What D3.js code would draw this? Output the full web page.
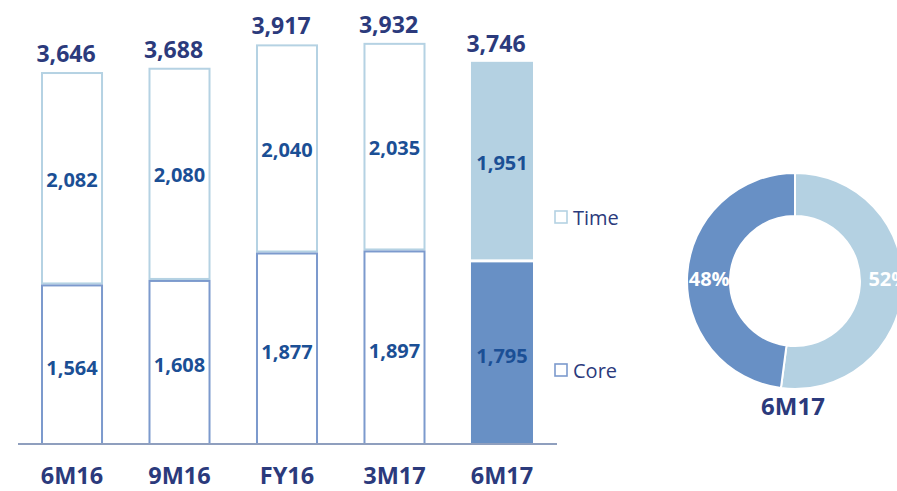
<!DOCTYPE html>
<html>
<head>
<meta charset="utf-8">
<script src="https://cdn.jsdelivr.net/npm/d3@7/dist/d3.min.js"></script>
<style>
  html, body { margin: 0; padding: 0; background: #ffffff; }
  svg { display: block; font-family: "Open Sans", "Liberation Sans", sans-serif; }
</style>
</head>
<body>
<svg id="chart" width="897" height="491"></svg>
<script>
// Deposit mix by period (Core vs Time), in millions
const periods = ["6M16", "9M16", "FY16", "3M17", "6M17"];
const coreValues = [1564, 1608, 1877, 1897, 1795];
const timeValues = [2082, 2080, 2040, 2035, 1951];
const totalValues = [3646, 3688, 3917, 3932, 3746];
const seriesNames = ["Time", "Core"];
const donutLabel = "6M17";

const navy = "#2b3a7c";
const valueBlue = "#1b4f95";
const timeFill = "#b4d1e2";
const coreFill = "#6890c5";
const timeStroke = "#b5d2e3";
const coreStroke = "#7c9acd";

const svg = d3.select("#chart");
const baseY = 444;

const x = d3.scaleBand()
  .domain(periods)
  .range([18, 556])
  .paddingInner(0.423)
  .paddingOuter(0.214);

const y = d3.scaleLinear()
  .domain([0, 4352])
  .range([baseY, 0]);

const rows = periods.map((p, i) => ({
  period: p,
  core: coreValues[i],
  time: timeValues[i],
  total: totalValues[i],
  filled: i === periods.length - 1
}));

const bars = svg.append("g");

// Time segments (upper)
bars.selectAll("rect.time")
  .data(rows)
  .join("rect")
  .attr("class", "time")
  .attr("x", d => x(d.period) + (d.filled ? 0 : 1))
  .attr("width", d => x.bandwidth() - (d.filled ? 0 : 2))
  .attr("y", d => y(d.core + d.time) + (d.filled ? 0 : 1))
  .attr("height", d => y(d.core) - y(d.core + d.time) - (d.filled ? 1.5 : 2))
  .attr("fill", d => d.filled ? timeFill : "#ffffff")
  .attr("stroke", d => d.filled ? "none" : timeStroke)
  .attr("stroke-width", 2);

// Core segments (lower)
bars.selectAll("rect.core")
  .data(rows)
  .join("rect")
  .attr("class", "core")
  .attr("x", d => x(d.period) + (d.filled ? 0 : 1))
  .attr("width", d => x.bandwidth() - (d.filled ? 0 : 2))
  .attr("y", d => y(d.core) + (d.filled ? 1.5 : 1))
  .attr("height", d => y(0) - y(d.core) - (d.filled ? 1.5 : 1))
  .attr("fill", d => d.filled ? coreFill : "#ffffff")
  .attr("stroke", d => d.filled ? "none" : coreStroke)
  .attr("stroke-width", 2);

// Baseline axis
const axis = d3.axisBottom(x).tickSize(0).tickPadding(23);
const axisG = svg.append("g")
  .attr("transform", `translate(0,${baseY})`)
  .call(axis);
axisG.select(".domain")
  .attr("d", "M18,0H557")
  .attr("stroke", "#8f9fbe")
  .attr("stroke-width", 2);
axisG.selectAll(".tick text")
  .attr("font-family", "Open Sans, sans-serif")
  .attr("font-size", 23.5)
  .attr("font-weight", 700)
  .attr("fill", navy)
  .attr("dy", "0.71em");

// Segment value labels
const fmt = d3.format(",");
bars.selectAll("text.tval")
  .data(rows)
  .join("text")
  .attr("x", d => x(d.period) + x.bandwidth() / 2)
  .attr("y", d => (y(d.core + d.time) + y(d.core)) / 2 + 1)
  .attr("text-anchor", "middle")
  .attr("dominant-baseline", "central")
  .attr("font-size", 20)
  .attr("font-weight", 700)
  .attr("fill", valueBlue)
  .text(d => fmt(d.time));

bars.selectAll("text.cval")
  .data(rows)
  .join("text")
  .attr("x", d => x(d.period) + x.bandwidth() / 2)
  .attr("y", d => (y(d.core) + y(0)) / 2 + 3)
  .attr("text-anchor", "middle")
  .attr("dominant-baseline", "central")
  .attr("font-size", 20)
  .attr("font-weight", 700)
  .attr("fill", valueBlue)
  .text(d => fmt(d.core));

// Totals above bars
bars.selectAll("text.total")
  .data(rows)
  .join("text")
  .attr("x", d => x(d.period) + x.bandwidth() / 2 - 6)
  .attr("y", d => y(d.total) - 10)
  .attr("text-anchor", "middle")
  .attr("font-size", 23)
  .attr("font-weight", 700)
  .attr("fill", navy)
  .text(d => fmt(d.total));

// Legend
const legend = svg.append("g");
const legendItems = [
  { name: seriesNames[0], stroke: timeStroke, y: 217 },
  { name: seriesNames[1], stroke: coreStroke, y: 370 }
];
legend.selectAll("rect")
  .data(legendItems)
  .join("rect")
  .attr("x", 555)
  .attr("y", d => d.y - 6)
  .attr("width", 12)
  .attr("height", 12)
  .attr("fill", "#ffffff")
  .attr("stroke", d => d.stroke)
  .attr("stroke-width", 1.6);
legend.selectAll("text")
  .data(legendItems)
  .join("text")
  .attr("x", 573)
  .attr("y", d => d.y)
  .attr("dominant-baseline", "central")
  .attr("font-size", 20)
  .attr("fill", navy)
  .text(d => d.name);

// Donut of the latest period mix
const last = rows[rows.length - 1];
const donutData = [
  { name: "Time", value: last.time, color: timeFill },
  { name: "Core", value: last.core, color: coreFill }
];
const cx = 795, cy = 281;
const outerR = 108, innerR = 65;
const pie = d3.pie().sort(null).value(d => d.value);
const arc = d3.arc().innerRadius(innerR).outerRadius(outerR);
const labelArc = d3.arc().innerRadius(86).outerRadius(86);
const arcs = pie(donutData);
const donut = svg.append("g").attr("transform", `translate(${cx},${cy})`);
donut.selectAll("path")
  .data(arcs)
  .join("path")
  .attr("d", arc)
  .attr("fill", d => d.data.color)
  .attr("stroke", "#ffffff")
  .attr("stroke-width", 2);
const totalMix = d3.sum(donutData, d => d.value);
donut.selectAll("text")
  .data(arcs)
  .join("text")
  .attr("transform", d => {
    const c = labelArc.centroid(d);
    return `translate(${c[0] + (c[0] > 0 ? 8 : 0)},-3)`;
  })
  .attr("text-anchor", "middle")
  .attr("dominant-baseline", "central")
  .attr("font-size", 20)
  .attr("font-weight", 700)
  .attr("fill", "#ffffff")
  .text(d => Math.round(d.data.value / totalMix * 100) + "%");

svg.append("text")
  .attr("x", cx - 2)
  .attr("y", cy + outerR + 26)
  .attr("text-anchor", "middle")
  .attr("font-size", 24)
  .attr("font-weight", 700)
  .attr("fill", navy)
  .text(donutLabel);
</script>
</body>
</html>
